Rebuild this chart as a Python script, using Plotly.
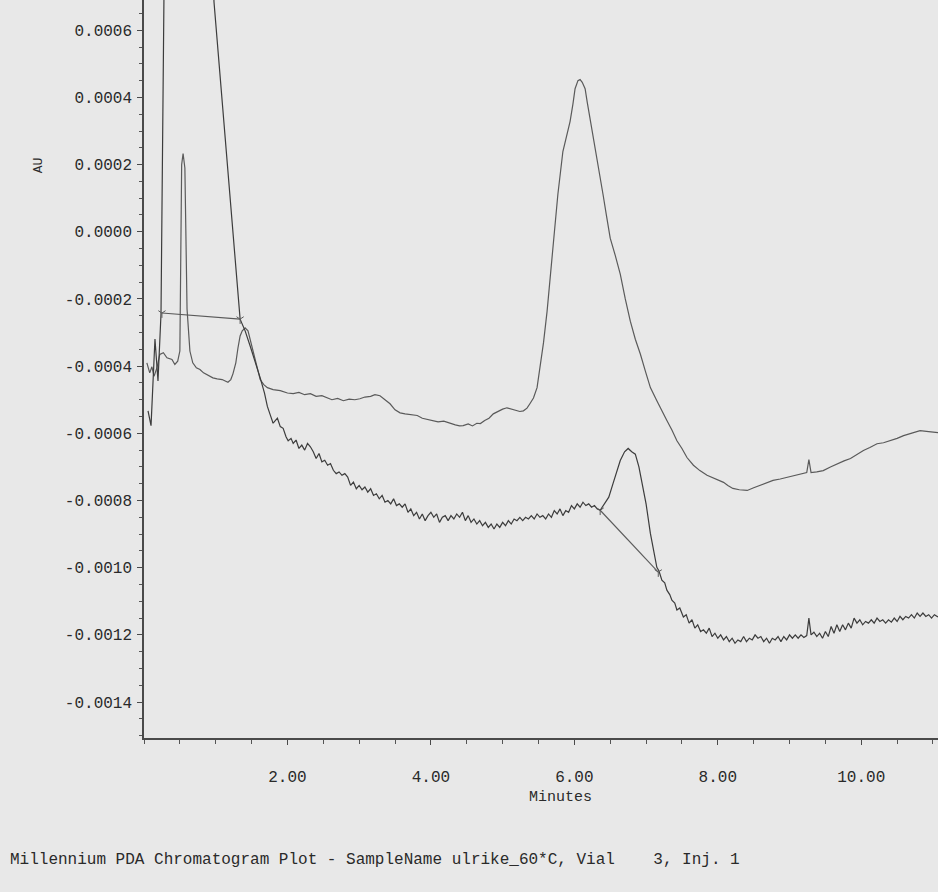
import plotly.graph_objects as go

SCALE = 1e-4  # values below are in units of 1e-4 AU

# Upper trace (channel 1)
t1_min = [0.04,0.08,0.11,0.14,0.18,0.22,0.27,0.32,0.39,0.43,0.47,0.50,0.525,0.545,0.57,0.60,0.64,0.68,0.73,0.78,
          0.83,0.88,0.92,0.96,1.02,1.09,1.17,1.21,1.24,1.28,1.31,1.34,1.37,1.41,1.45,1.51,1.58,1.62,1.67,1.72,
          1.80,1.90,2.00,2.08,2.16,2.24,2.32,2.40,2.48,2.55,2.62,2.70,2.78,2.86,2.94,3.01,3.08,3.16,3.22,3.29,
          3.36,3.43,3.50,3.57,3.64,3.72,3.81,3.88,3.95,4.03,4.10,4.18,4.27,4.34,4.40,4.45,4.52,4.58,4.64,4.69,
          4.75,4.81,4.87,4.93,5.00,5.06,5.12,5.18,5.24,5.29,5.34,5.38,5.43,5.48,5.52,5.57,5.62,5.66,5.70,5.77,
          5.84,5.90,5.94,5.98,6.01,6.05,6.08,6.11,6.15,6.18,6.22,6.27,6.32,6.36,6.40,6.45,6.50,6.57,6.64,6.71,
          6.78,6.85,6.92,6.99,7.06,7.15,7.22,7.29,7.36,7.43,7.50,7.57,7.66,7.75,7.85,7.94,8.01,8.08,8.14,8.21,
          8.30,8.41,8.50,8.59,8.68,8.77,8.87,8.97,9.06,9.15,9.24,9.27,9.30,9.38,9.47,9.57,9.67,9.76,9.85,9.94,
          10.03,10.12,10.22,10.31,10.40,10.50,10.59,10.70,10.82,10.94,11.07]
t1_val = [-3.90,-4.20,-4.02,-4.30,-4.05,-3.65,-3.60,-3.75,-3.80,-3.95,-3.85,-3.55,2.00,2.33,1.90,-2.30,-3.55,-3.90,-4.05,-4.10,
          -4.20,-4.25,-4.30,-4.35,-4.38,-4.40,-4.48,-4.40,-4.23,-3.90,-3.46,-3.10,-2.95,-2.86,-2.95,-3.46,-4.05,-4.40,-4.55,-4.64,
          -4.70,-4.73,-4.80,-4.82,-4.78,-4.85,-4.82,-4.90,-4.88,-4.94,-5.00,-4.96,-5.03,-4.98,-5.00,-4.97,-4.92,-4.90,-4.85,-4.88,
          -5.00,-5.12,-5.30,-5.39,-5.42,-5.45,-5.47,-5.55,-5.58,-5.62,-5.66,-5.64,-5.71,-5.75,-5.78,-5.77,-5.72,-5.78,-5.70,-5.71,
          -5.62,-5.55,-5.42,-5.35,-5.28,-5.24,-5.27,-5.30,-5.35,-5.33,-5.25,-5.12,-4.95,-4.64,-4.05,-3.30,-2.36,-1.40,-0.37,1.11,
          2.39,2.95,3.28,3.80,4.26,4.50,4.53,4.45,4.26,3.85,3.37,2.75,2.09,1.60,1.11,0.45,-0.19,-0.70,-1.26,-2.00,
          -2.66,-3.20,-3.64,-4.15,-4.64,-5.03,-5.35,-5.62,-5.90,-6.22,-6.45,-6.72,-6.95,-7.11,-7.25,-7.34,-7.40,-7.46,-7.55,-7.64,
          -7.68,-7.70,-7.62,-7.55,-7.48,-7.40,-7.36,-7.31,-7.25,-7.20,-7.17,-6.78,-7.17,-7.15,-7.11,-7.00,-6.90,-6.82,-6.75,-6.62,
          -6.51,-6.42,-6.31,-6.28,-6.22,-6.15,-6.07,-6.00,-5.92,-5.95,-5.98]

# Lower trace (channel 2)
t2_min = [0.056,0.098,0.153,0.195,0.237,0.28,0.30,0.90,0.976,1.34,1.41,1.48,1.55,1.62,1.68,1.72,1.76,1.80,1.83,1.86,
          1.90,1.94,1.98,2.01,2.05,2.08,2.12,2.16,2.20,2.24,2.28,2.32,2.36,2.40,2.44,2.48,2.52,2.56,2.60,2.64,
          2.68,2.72,2.76,2.80,2.84,2.88,2.92,2.96,3.00,3.04,3.08,3.12,3.16,3.20,3.24,3.28,3.32,3.36,3.40,3.44,
          3.48,3.52,3.56,3.60,3.64,3.68,3.72,3.76,3.80,3.84,3.88,3.92,3.96,4.00,4.04,4.08,4.12,4.16,4.20,4.24,
          4.28,4.32,4.36,4.40,4.44,4.48,4.52,4.56,4.60,4.64,4.68,4.72,4.76,4.80,4.84,4.88,4.92,4.96,5.00,5.04,
          5.08,5.12,5.16,5.20,5.24,5.28,5.32,5.36,5.40,5.44,5.48,5.52,5.56,5.60,5.64,5.68,5.72,5.76,5.80,5.84,
          5.88,5.92,5.96,6.00,6.04,6.08,6.12,6.16,6.20,6.24,6.28,6.32,6.36,6.42,6.48,6.54,6.60,6.64,6.70,6.75,
          6.80,6.85,6.90,6.95,7.00,7.06,7.11,7.15,7.18,7.22,7.26,7.29,7.33,7.36,7.40,7.43,7.47,7.52,7.56,7.60,
          7.64,7.68,7.72,7.76,7.80,7.84,7.88,7.92,7.96,8.00,8.04,8.08,8.12,8.16,8.20,8.24,8.28,8.32,8.36,8.40,
          8.44,8.48,8.52,8.56,8.60,8.64,8.68,8.72,8.76,8.80,8.84,8.88,8.92,8.96,9.00,9.04,9.08,9.12,9.16,9.20,
          9.24,9.27,9.30,9.34,9.38,9.42,9.46,9.50,9.54,9.58,9.62,9.66,9.70,9.74,9.78,9.82,9.86,9.90,9.94,9.98,
          10.02,10.06,10.10,10.14,10.18,10.22,10.26,10.30,10.34,10.38,10.42,10.46,10.50,10.54,10.58,10.62,10.66,10.70,10.74,10.78,
          10.82,10.86,10.90,10.94,10.98,11.02,11.07]
t2_val = [-5.33,-5.77,-3.19,-4.44,-2.45,6.84,12.0,12.0,6.84,-2.60,-2.95,-3.40,-3.85,-4.35,-4.80,-5.20,-5.45,-5.70,-5.62,-5.55,
          -5.80,-5.85,-6.10,-6.22,-6.15,-6.30,-6.20,-6.45,-6.35,-6.50,-6.30,-6.40,-6.55,-6.75,-6.60,-6.85,-6.80,-6.95,-6.90,-7.10,
          -7.20,-7.15,-7.25,-7.20,-7.30,-7.55,-7.45,-7.65,-7.55,-7.68,-7.60,-7.75,-7.65,-7.85,-7.80,-7.95,-7.85,-8.05,-8.00,-8.10,
          -7.95,-8.15,-8.10,-8.20,-8.10,-8.35,-8.25,-8.45,-8.35,-8.55,-8.40,-8.60,-8.45,-8.35,-8.50,-8.40,-8.65,-8.50,-8.45,-8.60,
          -8.45,-8.55,-8.40,-8.50,-8.35,-8.60,-8.45,-8.65,-8.55,-8.70,-8.60,-8.75,-8.65,-8.80,-8.70,-8.85,-8.70,-8.80,-8.65,-8.75,
          -8.60,-8.70,-8.55,-8.60,-8.50,-8.60,-8.50,-8.55,-8.45,-8.55,-8.40,-8.50,-8.45,-8.55,-8.40,-8.50,-8.30,-8.40,-8.25,-8.45,
          -8.30,-8.35,-8.15,-8.25,-8.10,-8.20,-8.05,-8.15,-8.10,-8.20,-8.15,-8.25,-8.29,-8.10,-7.90,-7.49,-7.05,-6.81,-6.55,-6.45,
          -6.55,-6.62,-7.00,-7.55,-8.10,-8.98,-9.60,-9.99,-10.10,-10.37,-10.45,-10.67,-10.80,-10.97,-11.05,-11.26,-11.20,-11.47,-11.40,-11.65,
          -11.55,-11.80,-11.70,-11.90,-11.85,-11.95,-11.80,-12.05,-11.95,-12.10,-12.00,-12.15,-12.05,-12.20,-12.10,-12.25,-12.15,-12.20,-12.05,-12.20,
          -12.10,-12.15,-12.00,-12.10,-12.05,-12.20,-12.10,-12.25,-12.10,-12.15,-12.05,-12.20,-12.05,-12.15,-12.00,-12.10,-12.00,-12.10,-12.00,-12.08,
          -12.02,-11.50,-12.00,-11.92,-12.05,-11.95,-12.10,-11.90,-12.05,-11.75,-11.95,-11.70,-11.90,-11.70,-11.85,-11.65,-11.80,-11.50,-11.65,-11.55,
          -11.70,-11.60,-11.65,-11.55,-11.65,-11.50,-11.60,-11.55,-11.65,-11.55,-11.62,-11.50,-11.60,-11.45,-11.55,-11.45,-11.50,-11.40,-11.50,-11.35,
          -11.45,-11.35,-11.45,-11.40,-11.50,-11.40,-11.47]

# Integration baselines (start/end points)
base1_min = [0.25, 1.34]
base1_val = [-2.42, -2.60]
base2_min = [6.36, 7.17]
base2_val = [-8.29, -10.13]

y_tick_vals = [6, 4, 2, 0, -2, -4, -6, -8, -10, -12, -14]
y_tick_text = ["0.0006", "0.0004", "0.0002", "0.0000", "-0.0002", "-0.0004",
               "-0.0006", "-0.0008", "-0.0010", "-0.0012", "-0.0014"]
x_tick_vals = [2, 4, 6, 8, 10]
x_tick_text = ["2.00", "4.00", "6.00", "8.00", "10.00"]

caption = "Millennium PDA Chromatogram Plot - SampleName ulrike_60*C, Vial    3, Inj. 1"

FONT = "Liberation Mono, Courier New, monospace"
INK = "#2a2a2a"
LINE1 = "#5a5a5a"
LINE2 = "#3c3c3c"

sc = lambda arr: [v * SCALE for v in arr]

fig = go.Figure()
fig.add_trace(go.Scatter(x=t1_min, y=sc(t1_val), mode="lines",
                         line=dict(color=LINE1, width=1.2), showlegend=False))
fig.add_trace(go.Scatter(x=t2_min, y=sc(t2_val), mode="lines",
                         line=dict(color=LINE2, width=1.2), showlegend=False))
for bx, bv in ((base1_min, base1_val), (base2_min, base2_val)):
    fig.add_trace(go.Scatter(x=bx, y=sc(bv), mode="lines+markers",
                             line=dict(color=LINE1, width=1.1),
                             marker=dict(symbol="y-down-open", size=6,
                                         line=dict(color=LINE1, width=1)),
                             showlegend=False))

fig.update_layout(
    width=938, height=892,
    margin=dict(l=144, r=0, t=0, b=154),
    paper_bgcolor="#e8e8e8", plot_bgcolor="#e8e8e8",
    font=dict(family=FONT, size=16, color=INK),
    xaxis=dict(range=[0, 11.07], showgrid=False, zeroline=False,
               showline=True, linecolor="#4a4a4a", linewidth=1.5,
               tickmode="array", tickvals=x_tick_vals, ticktext=x_tick_text,
               ticks="outside", ticklen=5, tickcolor="#4a4a4a",
               ticklabelstandoff=18,
               minor=dict(tickmode="linear", tick0=0, dtick=0.5, ticks="outside",
                          ticklen=4, tickcolor="#555", showgrid=False)),
    yaxis=dict(range=[-0.001507, 0.000690], showgrid=False, zeroline=False,
               showline=True, linecolor="#4a4a4a", linewidth=1.5,
               tickmode="array", tickvals=sc(y_tick_vals), ticktext=y_tick_text,
               ticks="outside", ticklen=5, tickcolor="#4a4a4a",
               ticklabelstandoff=2,
               minor=dict(tickmode="linear", tick0=0, dtick=0.00005, ticks="outside",
                          ticklen=3, tickcolor="#555", showgrid=False)),
    annotations=[
        dict(text="AU", textangle=-90, x=-0.1335, y=0.776, xref="paper", yref="paper",
             xanchor="center", yanchor="middle",
             showarrow=False, font=dict(size=13, family=FONT, color=INK)),
        dict(text="Minutes", x=0.524, y=-0.080, xref="paper", yref="paper",
             xanchor="center", yanchor="middle",
             showarrow=False, font=dict(size=15, family=FONT, color=INK)),
        dict(text=caption, x=-0.171, y=-0.165, xref="paper", yref="paper",
             xanchor="left", yanchor="middle",
             showarrow=False, font=dict(size=16, family=FONT, color=INK)),
    ],
)

fig.write_html("out.html", config={"displayModeBar": False},
               post_script="document.body.style.margin='0';document.body.style.background='#e8e8e8';")
